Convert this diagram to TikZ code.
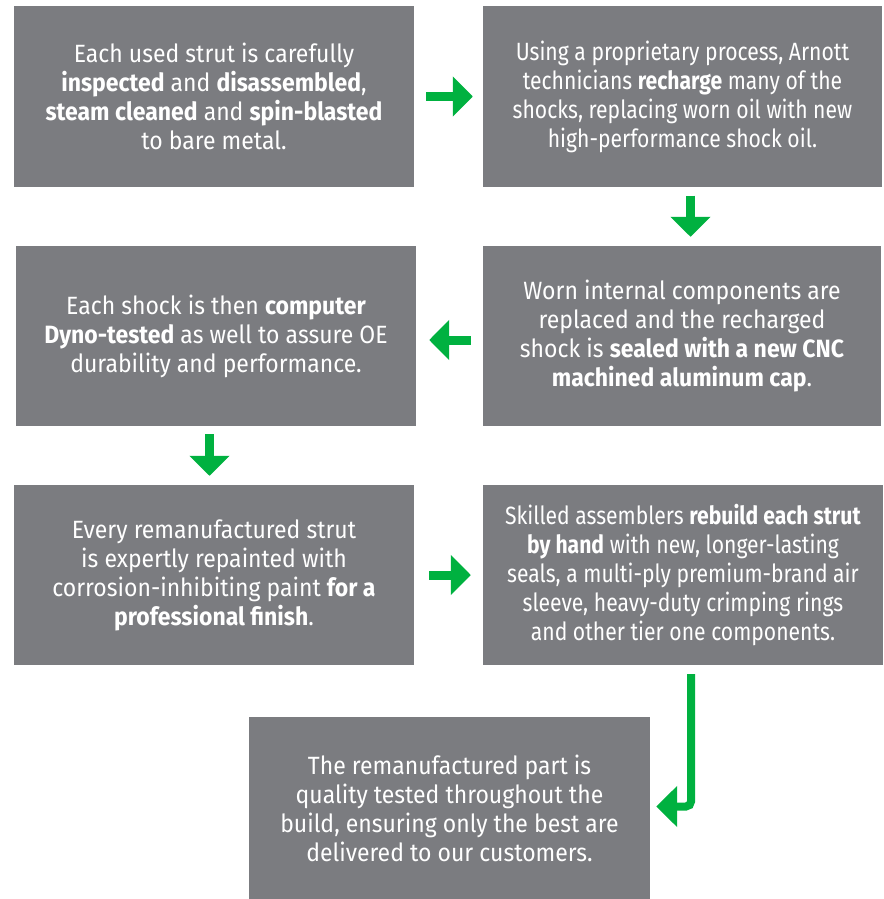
\documentclass[tikz,border=0pt]{standalone}
\usepackage{fontspec}
\setmainfont{Fira Sans}[FakeStretch=0.92]
\newfontfamily\narrowfont{Fira Sans}[FakeStretch=0.845]
\usetikzlibrary{arrows.meta,calc}
\definecolor{boxgray}{HTML}{7B7C80}
\definecolor{arrgreen}{HTML}{00B140}
\begin{document}
\begin{tikzpicture}[x=1pt,y=-1pt,
  stepbox/.style={fill=boxgray, text=white, minimum width=400pt, minimum height=180pt,
    inner sep=0pt, align=center, font=\fontsize{25}{29}\selectfont},
  narrowbox/.style={stepbox, font=\fontsize{25}{29}\selectfont\narrowfont},
  flow/.style={draw=arrgreen, line width=9pt, -{Triangle[length=20pt,width=39pt]}}]
\useasboundingbox (0,0) rectangle (883,899);
\fill[white] (0,0) rectangle (883,899);

\node[stepbox] (B1) at (214,96.5) {Each used strut is carefully\\ \textbf{inspected} and \textbf{disassembled},\\ \textbf{steam cleaned} and \textbf{spin-blasted}\\ to bare metal.};
\node[narrowbox, minimum width=399pt] (B2) at (682.5,96.5) {Using a proprietary process, Arnott\\ technicians \textbf{recharge} many of the\\ shocks, replacing worn oil with new\\ high-performance shock oil.};
\node[stepbox] (B3) at (216,336) {Each shock is then \textbf{computer}\\ \textbf{Dyno-tested} as well to assure OE\\ durability and performance.};
\node[stepbox, minimum width=398pt] (B4) at (682,336) {Worn internal components are\\ replaced and the recharged\\ shock is \textbf{sealed with a new CNC}\\ \textbf{machined aluminum cap}.};
\node[stepbox] (B5) at (214,575) {Every remanufactured strut\\ is expertly repainted with\\ corrosion-inhibiting paint \textbf{for a}\\ \textbf{professional finish}.};
\node[narrowbox] (B6) at (683,575) {Skilled assemblers \textbf{rebuild each strut}\\ \textbf{by hand} with new, longer-lasting\\ seals, a multi-ply premium-brand air\\ sleeve, heavy-duty crimping rings\\ and other tier one components.};
\node[stepbox, minimum width=401pt, minimum height=182pt] (B7) at (449.5,808) {The remanufactured part is\\ quality tested throughout the\\ build, ensuring only the best are\\ delivered to our customers.};

\draw[flow, shorten <=12pt, shorten >=10pt] (B1.east) -- (B2.west);
\draw[flow, shorten <=9pt, shorten >=9pt] ($(B2.south)+(8,0)$) -- ($(B2.south |- B4.north)+(8,0)$);
\draw[flow, shorten <=12pt, shorten >=13pt] ($(B4.west)+(0,4)$) -- ($(B3.east)+(0,4)$);
\draw[flow, shorten <=8pt, shorten >=9pt] ($(B3.south)+(-6.5,0)$) -- ($(B3.south |- B5.north)+(-6.5,0)$);
\draw[flow, shorten <=15pt, shorten >=12pt] (B5.east) -- (B6.west);
\draw[flow, line width=8pt, rounded corners=5pt, shorten >=6pt, -{Triangle[length=21pt,width=40pt]}] ($(B6.south)+(8,9)$) |- ($(B7.east)+(0,-1.5)$);
\end{tikzpicture}
\end{document}
